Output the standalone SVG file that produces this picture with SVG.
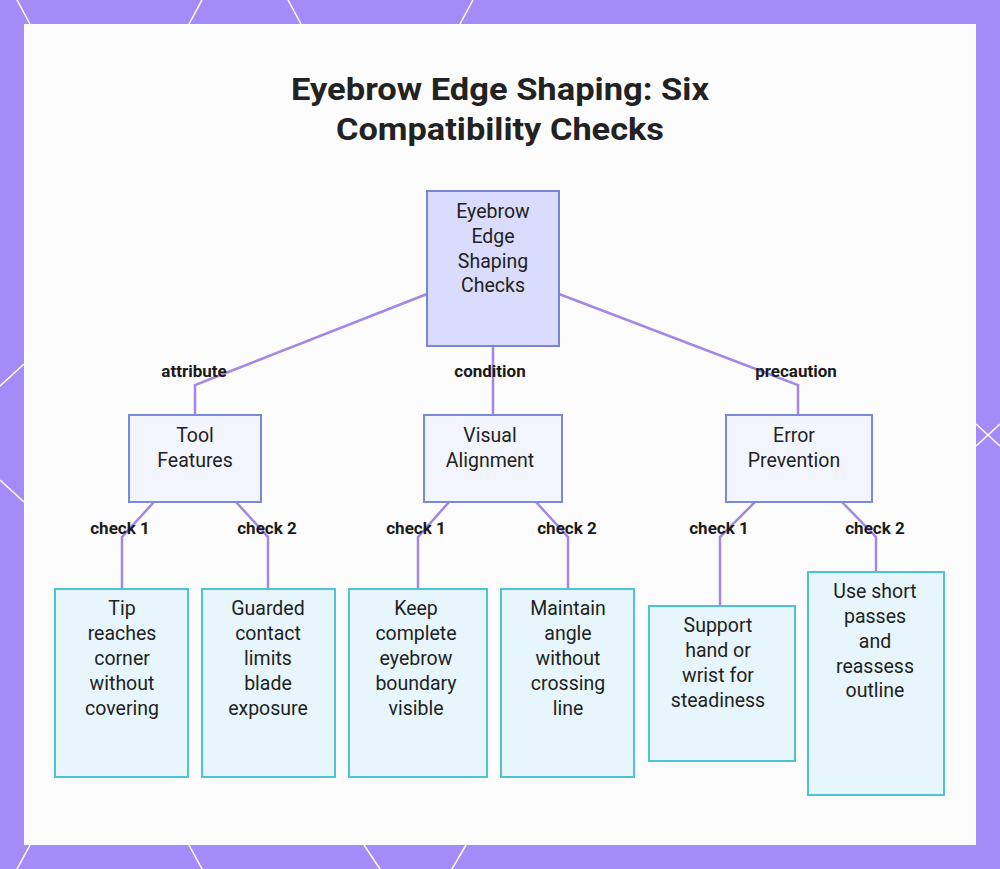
<svg xmlns="http://www.w3.org/2000/svg" width="1000" height="869" viewBox="0 0 1000 869">
<style>
.t{font-family:Roboto,"Liberation Sans",sans-serif;font-size:19.5px;fill:#222;text-anchor:middle}
.l{font-family:Roboto,"Liberation Sans",sans-serif;font-size:17px;font-weight:bold;fill:#1a1a1a;text-anchor:middle}
.h{font-family:Roboto,"Liberation Sans",sans-serif;font-size:31px;font-weight:bold;fill:#222;text-anchor:middle}
.c{fill:none;stroke:#a387e6;stroke-width:2.5}
.mid{fill:#f3f5fe;stroke:#7b8ad8;stroke-width:2}
.leaf{fill:#e6f6fc;stroke:#4ec3d6;stroke-width:2}
</style>
<rect width="1000" height="869" fill="#a48cf8"/>
<g stroke="#fff" stroke-width="1.5" fill="none">
<path d="M17 0L30 24M202 0L189 24M288 0L301 24M473 0L460 24M0 386L24 364M0 480L24 502M976 424L1000 446M976 446L1000 424M30 845L17 869M189 845L202 869M364 845L380 869M466 845L452 869"/>
</g>
<rect x="24" y="24" width="952" height="821" fill="#fcfcfc"/>
<text class="h" x="500" y="100" textLength="418" lengthAdjust="spacingAndGlyphs">Eyebrow Edge Shaping: Six</text>
<text class="h" x="500" y="140" textLength="328" lengthAdjust="spacingAndGlyphs">Compatibility Checks</text>
<g id="connectors">
<path class="c" d="M427 294L195 385V415"/>
<path class="c" d="M493 346V415"/>
<path class="c" d="M559 294L798 385V415"/>
<path class="c" d="M154 502L122 537V589"/>
<path class="c" d="M236 502L268 537V589"/>
<path class="c" d="M449 502L418 537V589"/>
<path class="c" d="M536 502L568 537V589"/>
<path class="c" d="M755 502L720 537V606"/>
<path class="c" d="M842 502L876 537V572"/>
<g class="l">
<text x="194" y="377">attribute</text>
<text x="490" y="377">condition</text>
<text x="796" y="377">precaution</text>
<text x="120" y="534">check 1</text>
<text x="267" y="534">check 2</text>
<text x="416" y="534">check 1</text>
<text x="567" y="534">check 2</text>
<text x="719" y="534">check 1</text>
<text x="875" y="534">check 2</text>
</g>
</g>
<g id="root"><rect x="427" y="191" width="132" height="155" fill="#d9dcfd" stroke="#7b83d6" stroke-width="2"/>
<text class="t" x="493" y="218">Eyebrow</text><text class="t" x="493" y="243">Edge</text><text class="t" x="493" y="268">Shaping</text><text class="t" x="493" y="292">Checks</text></g>
<g id="tool"><rect class="mid" x="129" y="415" width="132" height="87"/><text class="t" x="195" y="442">Tool</text><text class="t" x="195" y="467">Features</text></g>
<g id="visual"><rect class="mid" x="424" y="415" width="138" height="87"/><text class="t" x="490" y="442">Visual</text><text class="t" x="490" y="467">Alignment</text></g>
<g id="error"><rect class="mid" x="726" y="415" width="146" height="87"/><text class="t" x="794" y="442">Error</text><text class="t" x="794" y="467">Prevention</text></g>
<g id="leaf1"><rect class="leaf" x="55" y="589" width="133" height="188"/><text class="t" x="122" y="615">Tip</text><text class="t" x="122" y="640">reaches</text><text class="t" x="122" y="665">corner</text><text class="t" x="122" y="690">without</text><text class="t" x="122" y="715">covering</text></g>
<g id="leaf2"><rect class="leaf" x="202" y="589" width="133" height="188"/><text class="t" x="268" y="615">Guarded</text><text class="t" x="268" y="640">contact</text><text class="t" x="268" y="665">limits</text><text class="t" x="268" y="690">blade</text><text class="t" x="268" y="715">exposure</text></g>
<g id="leaf3"><rect class="leaf" x="349" y="589" width="138" height="188"/><text class="t" x="416" y="615">Keep</text><text class="t" x="416" y="640">complete</text><text class="t" x="416" y="665">eyebrow</text><text class="t" x="416" y="690">boundary</text><text class="t" x="416" y="715">visible</text></g>
<g id="leaf4"><rect class="leaf" x="501" y="589" width="133" height="188"/><text class="t" x="568" y="615">Maintain</text><text class="t" x="568" y="640">angle</text><text class="t" x="568" y="665">without</text><text class="t" x="568" y="690">crossing</text><text class="t" x="568" y="715">line</text></g>
<g id="leaf5"><rect class="leaf" x="649" y="606" width="146" height="155"/><text class="t" x="718" y="632">Support</text><text class="t" x="718" y="657">hand or</text><text class="t" x="718" y="682">wrist for</text><text class="t" x="718" y="707">steadiness</text></g>
<g id="leaf6"><rect class="leaf" x="808" y="572" width="136" height="223"/><text class="t" x="875" y="598">Use short</text><text class="t" x="875" y="623">passes</text><text class="t" x="875" y="648">and</text><text class="t" x="875" y="673">reassess</text><text class="t" x="875" y="697">outline</text></g>
</svg>
